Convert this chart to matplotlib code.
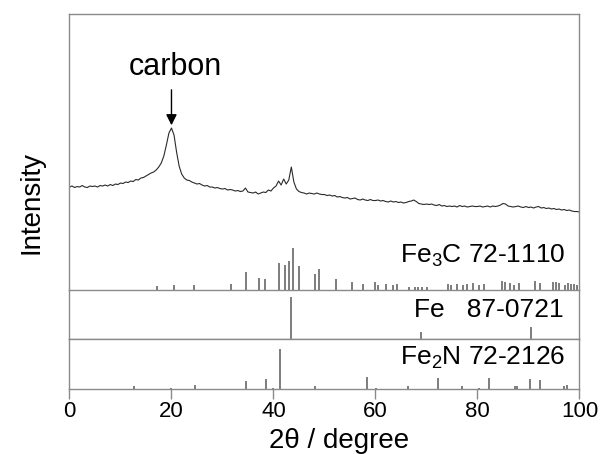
import numpy as np
import matplotlib
matplotlib.use("Agg")
import matplotlib.pyplot as plt

plt.rcParams['font.family'] = ['Liberation Sans', 'DejaVu Sans']
plt.rcParams['mathtext.fontset'] = 'custom'
plt.rcParams['mathtext.rm'] = 'Liberation Sans'
plt.rcParams['mathtext.default'] = 'regular'

# %% measured pattern (2theta step 0.5 deg, intensity a.u.)
two_theta = np.arange(0, 100.01, 0.5)
intensity = [
    103, 104, 102.5, 103.5, 103, 104.5, 103, 102.5, 104, 103.5,
    104, 103, 104.5, 104, 105, 104, 105.5, 104.5, 106, 105.5,
    107, 106.5, 108, 107.5, 109, 108.5, 110.5, 110, 112, 112.5,
    114, 115.5, 117, 118, 120, 123, 127, 134, 145, 157,
    162, 155, 138, 124, 116, 112, 110, 109.5, 108, 107,
    106, 106.5, 105, 104, 104.5, 103, 103, 102, 102.5, 101.5,
    101, 101.5, 100, 100.5, 100, 99, 99.5, 98.5, 99, 102,
    98, 97.5, 97, 98, 96, 97, 98, 97.5, 100, 99,
    102, 104, 109, 105, 111, 106, 110, 123, 108, 101,
    98.5, 97.5, 97, 96, 97, 96.5, 96, 97, 96, 95.5,
    95.5, 94.5, 95, 94, 94.5, 93, 93.5, 92.5, 92, 92.5,
    91, 91.5, 92, 90.5, 90, 91, 90, 89.5, 90.5, 89.5,
    89.5, 90, 89, 89.5, 88.5, 88, 89, 88, 88.5, 87.5,
    88, 87, 87.5, 88.5, 89, 90, 88.5, 86.5, 86, 85.5,
    86, 85.5, 86, 85, 84.5, 85.5, 84, 84.5, 83.5, 84,
    83.5, 84, 83, 84.5, 83.5, 84, 83, 83.5, 84, 83.5,
    83.5, 84, 83, 83.5, 84, 83, 84, 83.5, 84, 85,
    86.5, 86, 84, 83.5, 83, 83.5, 84, 83, 82.5, 83.5,
    82.5, 83, 82, 83, 83.5, 82, 82.5, 81.5, 82, 81,
    81.5, 80.5, 81, 80, 80.5, 79.5, 80, 79, 78.5, 78.5,
    78,
]

# %% reference cards (2theta, relative intensity %)
fe3c_pos = [17.1, 20.5, 24.4, 31.6, 34.6, 37.2, 38.3, 41.1, 42.3, 43.1, 43.8, 45.0,
            48.2, 49.0, 52.3, 55.3, 57.5, 59.9, 60.4, 62.1, 63.5, 64.2, 66.5, 67.8,
            68.4, 69.1, 70.1, 74.2, 74.8, 75.9, 77.1, 77.9, 79.1, 80.2, 81.2, 84.8,
            85.4, 86.3, 87.2, 88.2, 91.3, 92.3, 94.9, 95.4, 95.9, 97.2, 97.8, 98.3,
            99.0, 99.5]
fe3c_int = [9, 12, 11, 14, 43, 29, 26, 63, 60, 69, 100, 56,
            37, 49, 25, 18, 13, 20, 12, 13, 12, 15, 8, 6,
            8, 6, 8, 14, 12, 13, 12, 14, 16, 12, 13, 22,
            20, 17, 12, 16, 22, 17, 20, 20, 17, 12, 16, 13,
            14, 12]

fe_pos = [43.4, 68.9, 90.4]
fe_int = [100, 17, 28]

fe2n_pos = [12.7, 20.0, 24.6, 34.6, 38.6, 40.0, 41.2, 48.2, 58.4, 60.1, 66.3,
            72.2, 76.9, 80.2, 82.2, 87.3, 87.7, 90.3, 92.3, 97.0, 97.6]
fe2n_int = [7.5, 2.5, 9, 21, 26, 2.5, 100, 7.5, 30, 2.5, 8,
            27, 7, 2.5, 27, 8, 7, 25, 22, 7, 9]

labels = [r'Fe$_3$C 72-1110', 'Fe   87-0721', r'Fe$_2$N 72-2126']
xticks = [0, 20, 40, 60, 80, 100]

# %% figure
frame_c = '#8a8a8a'
stick_c = '#5a5a5a'
fig = plt.figure(figsize=(6.02, 4.54), dpi=100)
L, W = 0.1154, 0.8472
ax1 = fig.add_axes([L, 0.3612, W, 0.6079])
ax2 = fig.add_axes([L, 0.2533, W, 0.1079])
ax3 = fig.add_axes([L, 0.1432, W, 0.1101])

ax1.plot(two_theta, intensity, color='#2a2a2a', lw=0.8)
ax1.vlines(fe3c_pos, 0, np.array(fe3c_int) * 0.425, color=stick_c, lw=1.1)
ax1.set_ylim(0, 276)
ax1.text(97.2, 27, labels[0], ha='right', va='baseline', fontsize=19)
ax1.text(20.8, 215, 'carbon', ha='center', va='baseline', fontsize=22)
ax1.annotate('', xy=(20.0, 162), xytext=(20.0, 203),
             arrowprops=dict(arrowstyle='-|>', color='black', lw=1, mutation_scale=16))

ax2.vlines(fe_pos, 0, fe_int, color=stick_c, lw=1.1)
ax2.set_ylim(0, 115.8)
ax2.text(96.8, 53, labels[1], ha='right', va='baseline', fontsize=19)

ax3.vlines(fe2n_pos, 0, fe2n_int, color=stick_c, lw=1.1)
ax3.set_ylim(0, 125)
ax3.text(97.2, 60, labels[2], ha='right', va='baseline', fontsize=19)

for ax in (ax1, ax2, ax3):
    ax.set_xlim(0, 100)
    ax.set_yticks([])
    for s in ax.spines.values():
        s.set_color(frame_c)
        s.set_linewidth(1.0)
    ax.tick_params(axis='x', which='both', bottom=False, labelbottom=False)
ax1.spines['bottom'].set_visible(False)

ax3.set_xticks(xticks)
ax3.tick_params(axis='x', bottom=True, labelbottom=True, direction='out',
                length=7, width=1, color=frame_c, labelsize=16, pad=2)

fig.text(0.563, 0.013, u'2\u03b8 / degree', ha='center', va='baseline', fontsize=20)
fig.text(0.053, 0.555, 'Intensity', ha='center', va='center', rotation=90, fontsize=20)

fig.savefig('out.png', dpi=100)
